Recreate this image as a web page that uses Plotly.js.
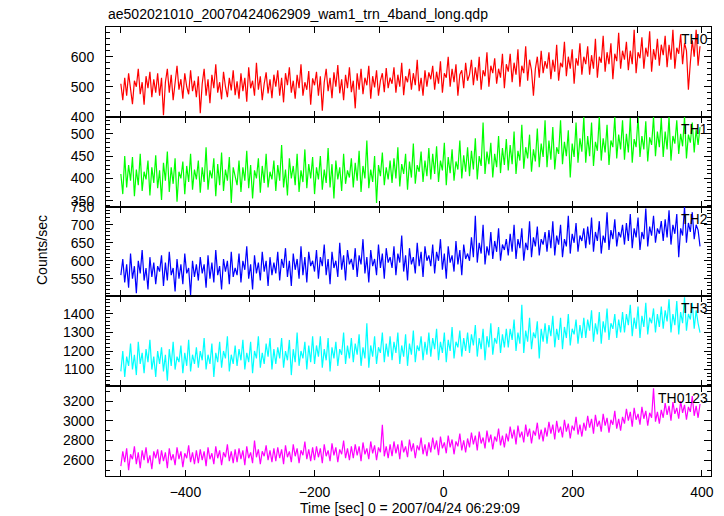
<!DOCTYPE html>
<html>
<head>
<meta charset="utf-8">
<script src="https://cdn.plot.ly/plotly-3.0.1.min.js"></script>
<style>html,body{margin:0;padding:0;background:#fff;}#chart{width:724px;height:516px;}</style>
</head>
<body>
<div id="chart"></div>
<script>
// time grid (sec), 3 s sampling from -500
const tStart = -500;
const tStep = 3;

const panelNames = ["TH0", "TH1", "TH2", "TH3", "TH0123"];
const panelColors = ["#ff0000", "#00ff00", "#0000ff", "#00ffff", "#ff00ff"];

const th0 = [
510,455,530,470,545,490,442,520,500,560,475,515,440,535,495,550,465,525,480,545,
470,530,405,515,560,480,540,455,505,570,490,525,460,545,500,475,555,485,520,465,
535,412,510,560,470,525,445,540,495,575,480,515,458,550,500,465,530,488,555,472,
518,460,545,485,530,450,565,495,520,470,580,490,535,455,510,548,478,525,462,540,
500,555,470,530,448,545,505,565,480,520,460,540,495,575,470,515,490,552,440,528,
505,550,470,535,420,515,560,485,530,462,548,500,572,478,525,455,540,495,565,482,
520,428,545,490,560,475,530,505,570,460,535,498,555,470,520,545,482,562,495,530,
510,565,480,540,500,580,472,535,515,560,490,545,505,590,485,530,470,555,500,548,
525,570,490,550,510,585,480,545,530,600,500,560,515,575,470,540,555,495,580,520,
540,590,505,565,520,600,490,555,535,615,500,570,545,595,510,560,530,610,495,575,
550,610,515,580,540,625,500,570,545,635,520,590,555,470,560,600,530,620,545,585,
560,615,525,590,550,640,520,580,565,650,535,600,560,625,510,595,570,645,540,600,
575,635,540,605,560,660,530,600,580,670,550,615,575,645,525,610,585,680,560,620,
590,650,555,620,575,690,545,615,595,665,560,630,600,685,550,625,590,660,570,640,
605,670,565,640,590,690,560,630,610,675,575,645,620,490,580,655,600,690,570,635];

const th1 = [
410,365,450,380,430,395,448,360,420,385,455,372,415,398,440,362,425,390,452,378,
418,352,435,395,460,370,425,388,445,348,415,400,438,365,428,392,455,375,420,398,
440,368,425,392,470,375,418,400,445,360,432,385,458,372,420,395,448,345,425,402,
385,440,370,425,395,462,378,430,355,418,400,445,368,428,390,455,380,415,398,440,
372,430,395,475,380,420,362,445,400,428,385,455,370,418,392,465,378,432,400,448,
365,425,398,450,375,420,390,468,380,432,355,440,398,425,372,455,388,418,402,445,
380,435,395,462,370,428,400,485,378,420,392,450,345,430,405,458,385,425,398,440,
390,445,400,470,382,432,410,455,375,438,402,478,388,430,415,460,392,440,405,468,
398,455,410,472,392,440,418,480,385,448,412,465,395,438,420,485,400,452,415,470,
405,462,420,490,398,450,428,525,410,460,432,480,402,455,425,495,412,468,430,488,
418,475,432,505,410,462,440,520,422,470,445,498,415,465,438,512,425,478,448,530,
425,485,442,515,420,470,455,530,432,482,450,508,402,478,448,525,435,490,460,538,
435,495,450,525,428,482,462,538,440,490,458,520,430,485,470,538,445,498,465,530,
442,500,458,535,435,488,470,538,448,495,465,528,438,492,475,538,450,505,470,535,
448,505,465,538,440,495,478,530,455,500,472,538,445,498,480,525,458,510,475,515];

const th2 = [
560,605,540,590,525,620,550,585,510,600,565,630,545,580,520,610,555,595,535,585,
570,615,530,595,545,625,560,580,515,605,550,590,535,620,565,580,505,600,555,590,
545,610,565,590,525,615,550,595,540,630,560,585,520,605,570,600,535,625,555,580,
560,620,540,600,575,640,550,590,520,615,565,595,545,625,570,600,530,610,560,595,
565,625,545,605,580,635,555,600,530,620,575,605,550,640,560,610,540,625,585,600,
570,630,550,610,585,645,560,605,535,625,580,600,555,650,575,615,545,630,590,605,
575,635,555,615,590,660,565,610,540,630,585,605,560,645,580,620,550,635,595,610,
580,640,560,620,595,670,570,615,545,635,590,610,565,650,585,625,555,640,600,615,
585,645,565,625,600,660,575,620,550,640,595,615,570,655,590,630,560,645,605,620,
600,665,610,725,595,650,620,700,590,640,615,680,605,655,625,690,600,645,630,660,
615,675,625,700,605,660,635,690,600,650,630,710,610,665,640,695,615,660,645,680,
625,685,635,710,615,670,645,700,610,660,640,725,620,675,650,705,625,670,655,690,
635,695,645,720,625,680,655,710,620,670,650,735,630,685,660,715,640,680,665,700,
645,705,655,730,635,690,665,720,630,680,660,745,640,695,670,725,650,690,675,710,
655,715,665,740,645,700,675,730,610,690,670,750,650,705,680,735,660,700,685,640];

const th3 = [
1090,1200,1060,1170,1120,1240,1100,1180,1070,1250,1130,1190,1080,1210,1140,1260,1100,1170,1060,1200,
1130,1220,1090,1180,1040,1210,1120,1250,1100,1170,1140,1230,1080,1190,1120,1260,1090,1180,1130,1220,
1110,1200,1150,1270,1100,1180,1130,1240,1060,1190,1140,1250,1110,1200,1160,1280,1090,1180,1130,1230,
1120,1210,1150,1260,1100,1190,1140,1250,1080,1200,1160,1280,1110,1190,1130,1240,1170,1270,1100,1210,
1130,1220,1160,1270,1110,1200,1150,1260,1070,1210,1140,1300,1120,1200,1160,1250,1100,1230,1140,1280,
1130,1230,1170,1280,1110,1210,1150,1270,1090,1220,1160,1250,1120,1210,1180,1300,1130,1230,1160,1270,
1140,1240,1180,1290,1120,1220,1160,1350,1110,1230,1170,1280,1130,1220,1190,1300,1140,1240,1170,1280,
1150,1250,1190,1300,1130,1230,1170,1290,1120,1240,1180,1310,1140,1230,1200,1280,1150,1250,1180,1300,
1170,1270,1210,1320,1150,1250,1190,1300,1140,1260,1200,1330,1160,1250,1220,1310,1170,1270,1200,1300,
1190,1290,1230,1340,1170,1270,1210,1320,1150,1280,1220,1350,1180,1270,1240,1330,1190,1290,1220,1320,
1220,1320,1260,1370,1200,1300,1240,1450,1190,1310,1250,1380,1210,1300,1270,1360,1160,1320,1250,1350,
1240,1340,1280,1390,1220,1320,1260,1380,1210,1330,1270,1400,1230,1320,1290,1370,1240,1340,1270,1380,
1270,1370,1310,1420,1250,1350,1290,1410,1240,1360,1300,1430,1260,1350,1320,1400,1270,1370,1300,1410,
1300,1400,1340,1450,1280,1380,1320,1440,1270,1390,1330,1460,1290,1380,1350,1430,1300,1400,1330,1440,
1320,1420,1360,1480,1300,1400,1340,1470,1290,1410,1350,1490,1310,1400,1370,1460,1320,1420,1350,1300];

const th0123 = [
2540,2690,2580,2720,2500,2660,2610,2740,2560,2680,2520,2700,2600,2730,2570,2650,2510,2690,2620,2710,
2560,2700,2590,2680,2520,2720,2600,2660,2550,2730,2610,2690,2530,2670,2620,2750,2580,2680,2560,2700,
2570,2710,2600,2690,2540,2730,2610,2670,2560,2740,2620,2700,2550,2680,2630,2760,2590,2690,2570,2710,
2580,2720,2610,2700,2550,2740,2620,2680,2570,2800,2630,2710,2560,2690,2640,2750,2600,2700,2580,2720,
2590,2730,2620,2710,2560,2750,2630,2690,2580,2760,2640,2720,2570,2700,2650,2790,2610,2710,2590,2730,
2600,2740,2630,2720,2570,2760,2640,2700,2590,2770,2650,2730,2580,2710,2660,2800,2620,2720,2600,2740,
2620,2760,2650,2740,2590,2780,2660,2720,2610,2790,2670,2750,2600,2730,2680,2960,2640,2740,2620,2760,
2640,2790,2670,2760,2610,2800,2680,2740,2630,2810,2690,2770,2620,2750,2700,2830,2660,2760,2640,2780,
2680,2830,2710,2800,2650,2840,2720,2780,2670,2850,2730,2810,2660,2790,2740,2870,2700,2800,2680,2820,
2730,2880,2760,2850,2700,2890,2770,2830,2720,2900,2780,2860,2710,2840,2790,2920,2750,2850,2730,2870,
2790,2940,2820,2910,2760,2950,2830,2890,2780,2960,2840,2920,2770,2900,2850,2980,2810,2910,2790,2930,
2840,2990,2870,2960,2810,3000,2880,2940,2830,3010,2890,2970,2820,2950,2900,3040,2860,2960,2840,2980,
2900,3050,2930,3020,2870,3060,2940,3000,2890,3070,2950,3030,2880,3010,2960,3100,2920,3020,2900,3040,
2970,3120,3000,3090,2940,3130,3010,3070,2960,3140,3020,3100,2950,3080,3030,3330,2990,3090,2970,3110,
3030,3180,3060,3150,3000,3190,3070,3130,3020,3200,3080,3160,3010,3140,3090,3250,3050,3150,3030,3170];

const series = [th0, th1, th2, th3, th0123];
const yRanges = [[399.8, 699], [337, 538], [501, 750.5], [1010, 1495], [2440, 3350]];
const yDticks = [100, 50, 50, 100, 200];
const yMinor = [20, 10, 10, 20, 100];

const times = th0.map((_, i) => tStart + tStep * i);

const FONT = "Liberation Sans, Arial, Helvetica, sans-serif";
const traces = [];
const layout = {
  width: 724, height: 516,
  margin: {l: 106, r: 13, t: 27, b: 40, pad: 0},
  paper_bgcolor: "#ffffff", plot_bgcolor: "#ffffff",
  showlegend: false,
  font: {family: FONT, size: 14, color: "#000"},
  title: {text: "ae502021010_20070424062909_wam1_trn_4band_long.qdp",
          x: 108/724, xref: "container", xanchor: "left",
          y: 1 - 14/516, yref: "container", yanchor: "middle",
          font: {family: FONT, size: 14, color: "#000"}},
  annotations: []
};

for (let k = 0; k < 5; k++) {
  const sfx = k === 0 ? "" : String(k + 1);
  traces.push({
    x: times, y: series[k], type: "scatter", mode: "lines",
    line: {color: panelColors[k], width: 1.2},
    xaxis: "x" + sfx, yaxis: "y" + sfx, hoverinfo: "skip"
  });
  const top = 1 - k * 0.2, bot = 1 - (k + 1) * 0.2;
  layout["xaxis" + sfx] = {
    domain: [0, 1], anchor: "y" + sfx, range: [-523, 414],
    tick0: 0, dtick: 200, ticks: "inside", ticklen: 6, tickwidth: 1, tickcolor: "#000",
    minor: {dtick: 100, tick0: 0, ticks: "inside", ticklen: 6, tickwidth: 1, tickcolor: "#000"},
    showline: true, linecolor: "#000", linewidth: 1, mirror: "allticks",
    showgrid: false, zeroline: false, showticklabels: k === 4,
    tickfont: {family: FONT, size: 14, color: "#000"},
    ticklabelstandoff: 3,
    automargin: false, fixedrange: true
  };
  if (k > 0) layout["xaxis" + sfx].matches = "x";
  layout["yaxis" + sfx] = {
    domain: [bot, top], anchor: "x" + sfx, range: yRanges[k],
    tick0: 0, dtick: yDticks[k], ticks: "inside", ticklen: 7, tickwidth: 1, tickcolor: "#000",
    minor: {dtick: yMinor[k], tick0: 0, ticks: "inside", ticklen: 4, tickwidth: 1, tickcolor: "#000"},
    showline: true, linecolor: "#000", linewidth: 1, mirror: "allticks",
    showgrid: false, zeroline: false,
    tickfont: {family: FONT, size: 14, color: "#000"},
    ticklabelstandoff: 8,
    automargin: false, fixedrange: true
  };
  layout.annotations.push({
    text: panelNames[k], xref: "paper", yref: "y" + sfx + " domain",
    x: 1, y: 1, xanchor: "right", yanchor: "top", xshift: -1, yshift: -2,
    showarrow: false, font: {family: FONT, size: 14, color: "#000"}
  });
}

layout.annotations.push({
  text: "Counts/sec", xref: "paper", yref: "paper",
  x: (42 - 106) / 605, y: (476 - 250) / 449, textangle: -90,
  xanchor: "center", yanchor: "middle", showarrow: false,
  font: {family: FONT, size: 14, color: "#000"}
});
layout.annotations.push({
  text: "Time [sec] 0 = 2007/04/24 06:29:09", xref: "paper", yref: "paper",
  x: (410 - 106) / 605, y: -(508 - 476) / 449,
  xanchor: "center", yanchor: "middle", showarrow: false,
  font: {family: FONT, size: 14, color: "#000"}
});

Plotly.newPlot("chart", traces, layout, {staticPlot: true, displayModeBar: false});
</script>
</body>
</html>
